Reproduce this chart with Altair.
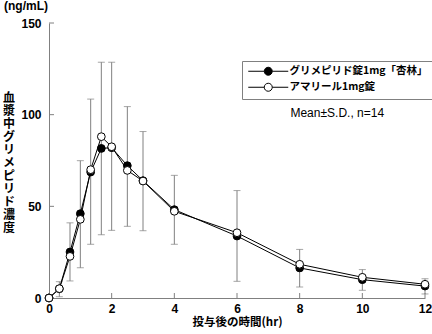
import altair as alt
import pandas as pd

times = [0, 0.33, 0.67, 1, 1.33, 1.67, 2, 2.5, 3, 4, 6, 8, 10, 12]
generic = [0, 5.0, 25.1, 46.0, 68.7, 81.6, 82.0, 72.2, 64.0, 48.2, 33.8, 16.4, 10.0, 6.5]
brand = [0, 5.1, 22.7, 42.9, 70.0, 88.0, 82.5, 69.6, 63.8, 47.3, 35.6, 18.4, 11.3, 7.5]
sd_hi = [0, 8.9, 41.0, 74.9, 108.5, 128.6, 128.6, 104.4, 90.8, 66.9, 58.6, 26.5, 15.5, 10.5]
sd_lo = [0, 0.7, 9.3, 16.5, 29.3, 34.5, 36.9, 39.1, 36.7, 29.3, 9.1, 6.0, 4.2, 2.2]
series_names = ["グリメピリド錠1mg「杏林」", "アマリール1mg錠"]
x_ticks = [0, 2, 4, 6, 8, 10, 12]
y_ticks = [0, 50, 100, 150]
y_title = "血漿中グリメピリド濃度"
x_title = "投与後の時間(hr)"
unit_label = "(ng/mL)"
note = "Mean±S.D., n=14"

JP = "Noto Sans CJK JP"
LAT = "Liberation Sans"
GRAY = "#808080"
W, H = 376, 275

rows = []
for name, vals in zip(series_names, [generic, brand]):
    for t, v in zip(times, vals):
        rows.append({"time": t, "series": name, "value": v})
df = pd.DataFrame(rows)
err = pd.DataFrame({"time": times, "lo": sd_lo, "hi": sd_hi})
err = err[err["hi"] > err["lo"]]
xt = pd.DataFrame({"t": x_ticks})
yt = pd.DataFrame({"v": y_ticks})
notes = pd.DataFrame({"time": [9.2], "value": [101], "text": [note]})
ytitle_df = pd.DataFrame({"i": list(range(len(y_title))), "ch": list(y_title)})

xscale = alt.Scale(domain=[0, 12], nice=False)
yscale = alt.Scale(domain=[0, 150], nice=False)

xaxis = alt.Axis(values=x_ticks, tickSize=0, labelPadding=5, title=x_title,
                 titlePadding=2, grid=False, labelFlush=False,
                 titleFont=JP, titleFontSize=11.5, titleFontWeight="bold")
yaxis = alt.Axis(values=y_ticks, tickSize=0, labelPadding=8, title=None, grid=False)

bars = alt.Chart(err).mark_rule(color=GRAY, strokeWidth=1).encode(
    x=alt.X("time:Q", scale=xscale, axis=xaxis),
    y=alt.Y("lo:Q", scale=yscale, axis=yaxis),
    y2="hi:Q",
)
caps_hi = alt.Chart(err).mark_tick(color=GRAY, size=7, thickness=1, orient="horizontal").encode(
    x="time:Q", y="hi:Q")
caps_lo = alt.Chart(err).mark_tick(color=GRAY, size=7, thickness=1, orient="horizontal").encode(
    x="time:Q", y="lo:Q")

xticks = alt.Chart(xt).mark_rule(color=GRAY).encode(
    x="t:Q", y=alt.value(H), y2=alt.value(H - 5))
yticks = alt.Chart(yt).mark_rule(color=GRAY).encode(
    y="v:Q", x=alt.value(0), x2=alt.value(5))

lines = alt.Chart(df).mark_line(color="black", strokeWidth=1).encode(
    x="time:Q", y="value:Q", detail="series:N")

legend = alt.Legend(
    title=None, orient="none", legendX=193, legendY=38,
    symbolType="M-5,0L-1,0M1,0L5,0M-1,0A1,1 0 1,1 1,0A1,1 0 1,1 -1,0Z",
    symbolSize=64, symbolStrokeColor="black", symbolStrokeWidth=1,
    symbolOffset=16, labelOffset=16, labelFont=JP, labelFontSize=10.5,
    labelFontWeight="bold", labelColor="black",
    strokeColor=GRAY, padding=5, rowPadding=3, labelLimit=300,
)
points = alt.Chart(df).mark_point(filled=True, size=60, stroke="black",
                                  strokeWidth=1, opacity=1).encode(
    x="time:Q", y="value:Q",
    fill=alt.Fill("series:N", scale=alt.Scale(domain=series_names, range=["black", "white"]),
                  legend=legend),
    order=alt.Order("ord:Q"),
).transform_calculate(ord=f"indexof({series_names!r}, datum.series)")

note_text = alt.Chart(notes).mark_text(font=LAT, fontSize=12, color="black").encode(
    x="time:Q", y="value:Q", text="text:N")

main = alt.layer(bars, caps_hi, caps_lo, xticks, yticks, lines, points, note_text)

ytitle = alt.Chart(ytitle_df).mark_text(
    font=JP, fontSize=12, fontWeight="bold", color="black",
    align="center", baseline="middle").encode(
    x=alt.value(-40),
    y=alt.Y("i:Q", scale=alt.Scale(domain=[0, len(y_title) - 1], range=[74.5, 74.5 + 13 * (len(y_title) - 1)]),
            axis=None),
    text="ch:N")

chart = alt.layer(main, ytitle).resolve_scale(y="independent").properties(
    width=W, height=H,
    title=alt.TitleParams(unit_label, anchor="start", frame="group", dx=-45, offset=4,
                          font=LAT, fontSize=12, fontWeight="bold", color="black"),
    autosize=alt.AutoSizeParams(type="none"),
    padding={"left": 49, "top": 23, "right": 7, "bottom": 36},
).configure_view(stroke=None).configure_axis(
    domainColor=GRAY, labelFont=LAT, labelFontSize=12, labelFontWeight="bold",
    labelColor="black", titleColor="black",
)

chart.save("out.html", embed_options={"renderer": "svg", "actions": False})
